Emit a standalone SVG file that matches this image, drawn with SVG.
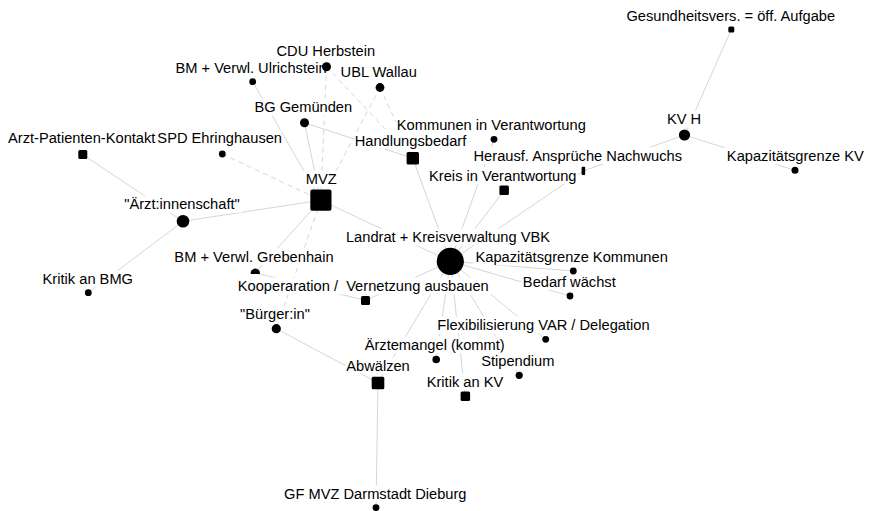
<svg xmlns="http://www.w3.org/2000/svg" width="870" height="511" viewBox="0 0 870 511">
  <style>
    .e { stroke: #d6d6d6; stroke-width: 1; fill: none; }
    .d { stroke-dasharray: 5 4; }
    .n { fill: #000; }
    .lb { fill: #fff; }
    text { font-family: "Liberation Sans", Arial, sans-serif; font-size: 14.67px; fill: #000; text-anchor: middle; }
  </style>
  <rect width="870" height="511" fill="#fff"/>

  <!-- connectors -->
  <g id="edges">
    <line class="e" x1="731.3" y1="29.5" x2="684.5" y2="135"/>
    <line class="e" x1="684.5" y1="135" x2="583.3" y2="171"/>
    <line class="e" x1="684.5" y1="135" x2="795" y2="170.3"/>
    <line class="e" x1="583.3" y1="171" x2="450.3" y2="261.3"/>
    <line class="e" x1="494" y1="139.3" x2="450.3" y2="261.3"/>
    <line class="e" x1="504.2" y1="190.3" x2="450.3" y2="261.3"/>
    <line class="e" x1="412.8" y1="158.2" x2="450.3" y2="261.3"/>
    <line class="e" x1="320.8" y1="200.2" x2="450.3" y2="261.3"/>
    <line class="e" x1="573.3" y1="271" x2="450.3" y2="261.3"/>
    <line class="e" x1="570" y1="296" x2="450.3" y2="261.3"/>
    <line class="e" x1="545.7" y1="339.3" x2="450.3" y2="261.3"/>
    <line class="e" x1="519.2" y1="375.3" x2="450.3" y2="261.3"/>
    <line class="e" x1="465.3" y1="396.3" x2="450.3" y2="261.3"/>
    <line class="e" x1="436.2" y1="359.5" x2="450.3" y2="261.3"/>
    <line class="e" x1="378" y1="383" x2="450.3" y2="261.3"/>
    <line class="e" x1="365.5" y1="300.5" x2="450.3" y2="261.3"/>
    <line class="e" x1="276.3" y1="328.7" x2="378" y2="383"/>
    <line class="e" x1="378" y1="383" x2="376" y2="507.7"/>
    <line class="e" x1="255.3" y1="273" x2="365.5" y2="300.5"/>
    <line class="e" x1="320.8" y1="200.2" x2="255.3" y2="273"/>
    <line class="e" x1="183" y1="221.3" x2="320.8" y2="200.2"/>
    <line class="e" x1="183" y1="221.3" x2="82.8" y2="154.5"/>
    <line class="e" x1="183" y1="221.3" x2="88.3" y2="292.7"/>
    <line class="e" x1="252.7" y1="81.7" x2="320.8" y2="200.2"/>
    <line class="e" x1="304.5" y1="122.8" x2="320.8" y2="200.2"/>
    <line class="e" x1="304.5" y1="122.8" x2="412.8" y2="158.2"/>
    <line class="e d" x1="222.3" y1="154" x2="320.8" y2="200.2"/>
    <line class="e d" x1="326.5" y1="66.7" x2="320.8" y2="200.2"/>
    <line class="e d" x1="380" y1="87.5" x2="320.8" y2="200.2"/>
    <line class="e d" x1="326.5" y1="66.7" x2="412.8" y2="158.2"/>
    <line class="e d" x1="380" y1="87.5" x2="412.8" y2="158.2"/>
    <line class="e d" x1="320.8" y1="200.2" x2="276.3" y2="328.7"/>
  </g>

  <!-- nodes: shape, white label plate, label -->
  <g id="n-gesundheitsvers">
    <rect class="n" x="728.3" y="26.5" width="6" height="6" rx="1.5"/>
    <rect class="lb" x="622.8" y="7" width="216" height="16.8"/>
    <text x="730.8" y="20.5">Gesundheitsvers. = öff. Aufgabe</text>
  </g>
  <g id="n-kvh">
    <circle class="n" cx="684.5" cy="135" r="5.6"/>
    <rect class="lb" x="665.8" y="110.5" width="36.4" height="16.8"/>
    <text x="684" y="124">KV H</text>
  </g>
  <g id="n-kapazitaet-kv">
    <circle class="n" cx="795" cy="170.3" r="3.5"/>
    <rect class="lb" x="724.2" y="147.5" width="142.3" height="16.8"/>
    <text x="795.3" y="161">Kapazitätsgrenze KV</text>
  </g>
  <g id="n-ulrichstein">
    <circle class="n" cx="252.7" cy="81.7" r="3.4"/>
    <rect class="lb" x="173.5" y="59" width="155" height="16.8"/>
    <text x="251" y="72.5">BM + Verwl. Ulrichstein</text>
  </g>
  <g id="n-cdu">
    <circle class="n" cx="326.5" cy="66.7" r="4.5"/>
    <rect class="lb" x="274.5" y="42.5" width="102.7" height="16.8"/>
    <text x="325.8" y="56">CDU Herbstein</text>
  </g>
  <g id="n-ubl">
    <circle class="n" cx="380" cy="87.5" r="4.4"/>
    <rect class="lb" x="339.2" y="63.5" width="79" height="16.8"/>
    <text x="378.7" y="77">UBL Wallau</text>
  </g>
  <g id="n-bg">
    <circle class="n" cx="304.5" cy="122.8" r="4.5"/>
    <rect class="lb" x="253.5" y="98.5" width="99.7" height="16.8"/>
    <text x="303.3" y="112">BG Gemünden</text>
  </g>
  <g id="n-kommunen">
    <circle class="n" cx="494" cy="139.3" r="3.4"/>
    <rect class="lb" x="396.2" y="116.5" width="190.3" height="16.8"/>
    <text x="491.3" y="130">Kommunen in Verantwortung</text>
  </g>
  <g id="n-apk">
    <rect class="n" x="78.3" y="150" width="9" height="9" rx="1.5"/>
    <rect class="lb" x="5.8" y="129.8" width="151.7" height="16.8"/>
    <text x="81.7" y="143.3">Arzt-Patienten-Kontakt</text>
  </g>
  <g id="n-spd">
    <circle class="n" cx="222.3" cy="154" r="3.4"/>
    <rect class="lb" x="157.8" y="129.8" width="123.7" height="16.8"/>
    <text x="219.7" y="143.3">SPD Ehringhausen</text>
  </g>
  <g id="n-handlungsbedarf">
    <rect class="n" x="406.6" y="152" width="12.4" height="12.4" rx="1.5"/>
    <rect class="lb" x="354.5" y="132.2" width="112" height="16.8"/>
    <text x="410.5" y="145.7">Handlungsbedarf</text>
  </g>
  <g id="n-kreis">
    <rect class="n" x="499.4" y="185.6" width="9.5" height="9.5" rx="1.5"/>
    <rect class="lb" x="427.5" y="167.2" width="150.7" height="16.8"/>
    <text x="502.8" y="180.7">Kreis in Verantwortung</text>
  </g>
  <g id="n-herausf">
    <rect class="n" x="581.6" y="166.8" width="3.6" height="8.2" rx="1"/>
    <rect class="lb" x="472.5" y="147.2" width="210.7" height="16.8"/>
    <text x="577.8" y="160.7">Herausf. Ansprüche Nachwuchs</text>
  </g>
  <g id="n-mvz">
    <rect class="n" x="310.3" y="189.5" width="21.2" height="21.2" rx="2"/>
    <rect class="lb" x="303.5" y="170.5" width="35.3" height="16.8"/>
    <text x="321.2" y="184">MVZ</text>
  </g>
  <g id="n-aerzteschaft">
    <circle class="n" cx="183" cy="221.3" r="6.3"/>
    <rect class="lb" x="122.5" y="195.8" width="119" height="16.8"/>
    <text x="182" y="209.3">"Ärzt:innenschaft"</text>
  </g>
  <g id="n-landrat">
    <circle class="n" cx="450.3" cy="261.3" r="13.6"/>
    <rect class="lb" x="344.5" y="228.8" width="207" height="16.8"/>
    <text x="448" y="242.3">Landrat + Kreisverwaltung VBK</text>
  </g>
  <g id="n-grebenhain">
    <path class="n" d="M250.8,274 A4.6,4.6 0 1 1 259.8,274 Z"/>
    <rect class="lb" x="172.5" y="248.2" width="163" height="16.8"/>
    <text x="254" y="261.7">BM + Verwl. Grebenhain</text>
  </g>
  <g id="n-bedarf">
    <circle class="n" cx="570" cy="296" r="3.4"/>
    <rect class="lb" x="521.2" y="273.2" width="96.3" height="16.8"/>
    <text x="569.3" y="286.7">Bedarf wächst</text>
  </g>
  <g id="n-kapazitaet-kommunen">
    <circle class="n" cx="573.3" cy="271" r="3.4"/>
    <rect class="lb" x="473.5" y="248.5" width="196.3" height="16.8"/>
    <text x="571.7" y="262">Kapazitätsgrenze Kommunen</text>
  </g>
  <g id="n-kritik-bmg">
    <circle class="n" cx="88.3" cy="292.7" r="3.4"/>
    <rect class="lb" x="40.8" y="270.5" width="94" height="16.8"/>
    <text x="87.8" y="284">Kritik an BMG</text>
  </g>
  <g id="n-kooperation">
    <rect class="n" x="361" y="296" width="9" height="9" rx="1.5"/>
    <rect class="lb" x="235.8" y="277.5" width="255" height="16.8"/>
    <text x="363.3" y="291" xml:space="preserve">Kooperaration /  Vernetzung ausbauen</text>
  </g>
  <g id="n-buerger">
    <circle class="n" cx="276.3" cy="328.7" r="4.6"/>
    <rect class="lb" x="238.5" y="305.5" width="73" height="16.8"/>
    <text x="275" y="319">"Bürger:in"</text>
  </g>
  <g id="n-flexibilisierung">
    <circle class="n" cx="545.7" cy="339.3" r="3.4"/>
    <rect class="lb" x="435.2" y="316.5" width="216.4" height="16.8"/>
    <text x="543.4" y="330">Flexibilisierung VAR / Delegation</text>
  </g>
  <g id="n-aerztemangel">
    <circle class="n" cx="436.2" cy="359.5" r="3.8"/>
    <rect class="lb" x="362.8" y="336.5" width="143.7" height="16.8"/>
    <text x="434.7" y="350">Ärztemangel (kommt)</text>
  </g>
  <g id="n-stipendium">
    <circle class="n" cx="519.2" cy="375.3" r="3.6"/>
    <rect class="lb" x="480.2" y="352.5" width="75.3" height="16.8"/>
    <text x="517.8" y="366">Stipendium</text>
  </g>
  <g id="n-abwaelzen">
    <rect class="n" x="371.7" y="376.7" width="12.6" height="12.6" rx="1.5"/>
    <rect class="lb" x="345.2" y="357.5" width="65.6" height="16.8"/>
    <text x="378" y="371">Abwälzen</text>
  </g>
  <g id="n-kritik-kv">
    <rect class="n" x="460.6" y="391.6" width="9.5" height="9.5" rx="1.5"/>
    <rect class="lb" x="425.2" y="373.2" width="79.6" height="16.8"/>
    <text x="465" y="386.7">Kritik an KV</text>
  </g>
  <g id="n-gf-mvz">
    <circle class="n" cx="376" cy="507.7" r="3.4"/>
    <rect class="lb" x="280.8" y="485.5" width="189" height="16.8"/>
    <text x="375.3" y="499">GF MVZ Darmstadt Dieburg</text>
  </g>
</svg>
